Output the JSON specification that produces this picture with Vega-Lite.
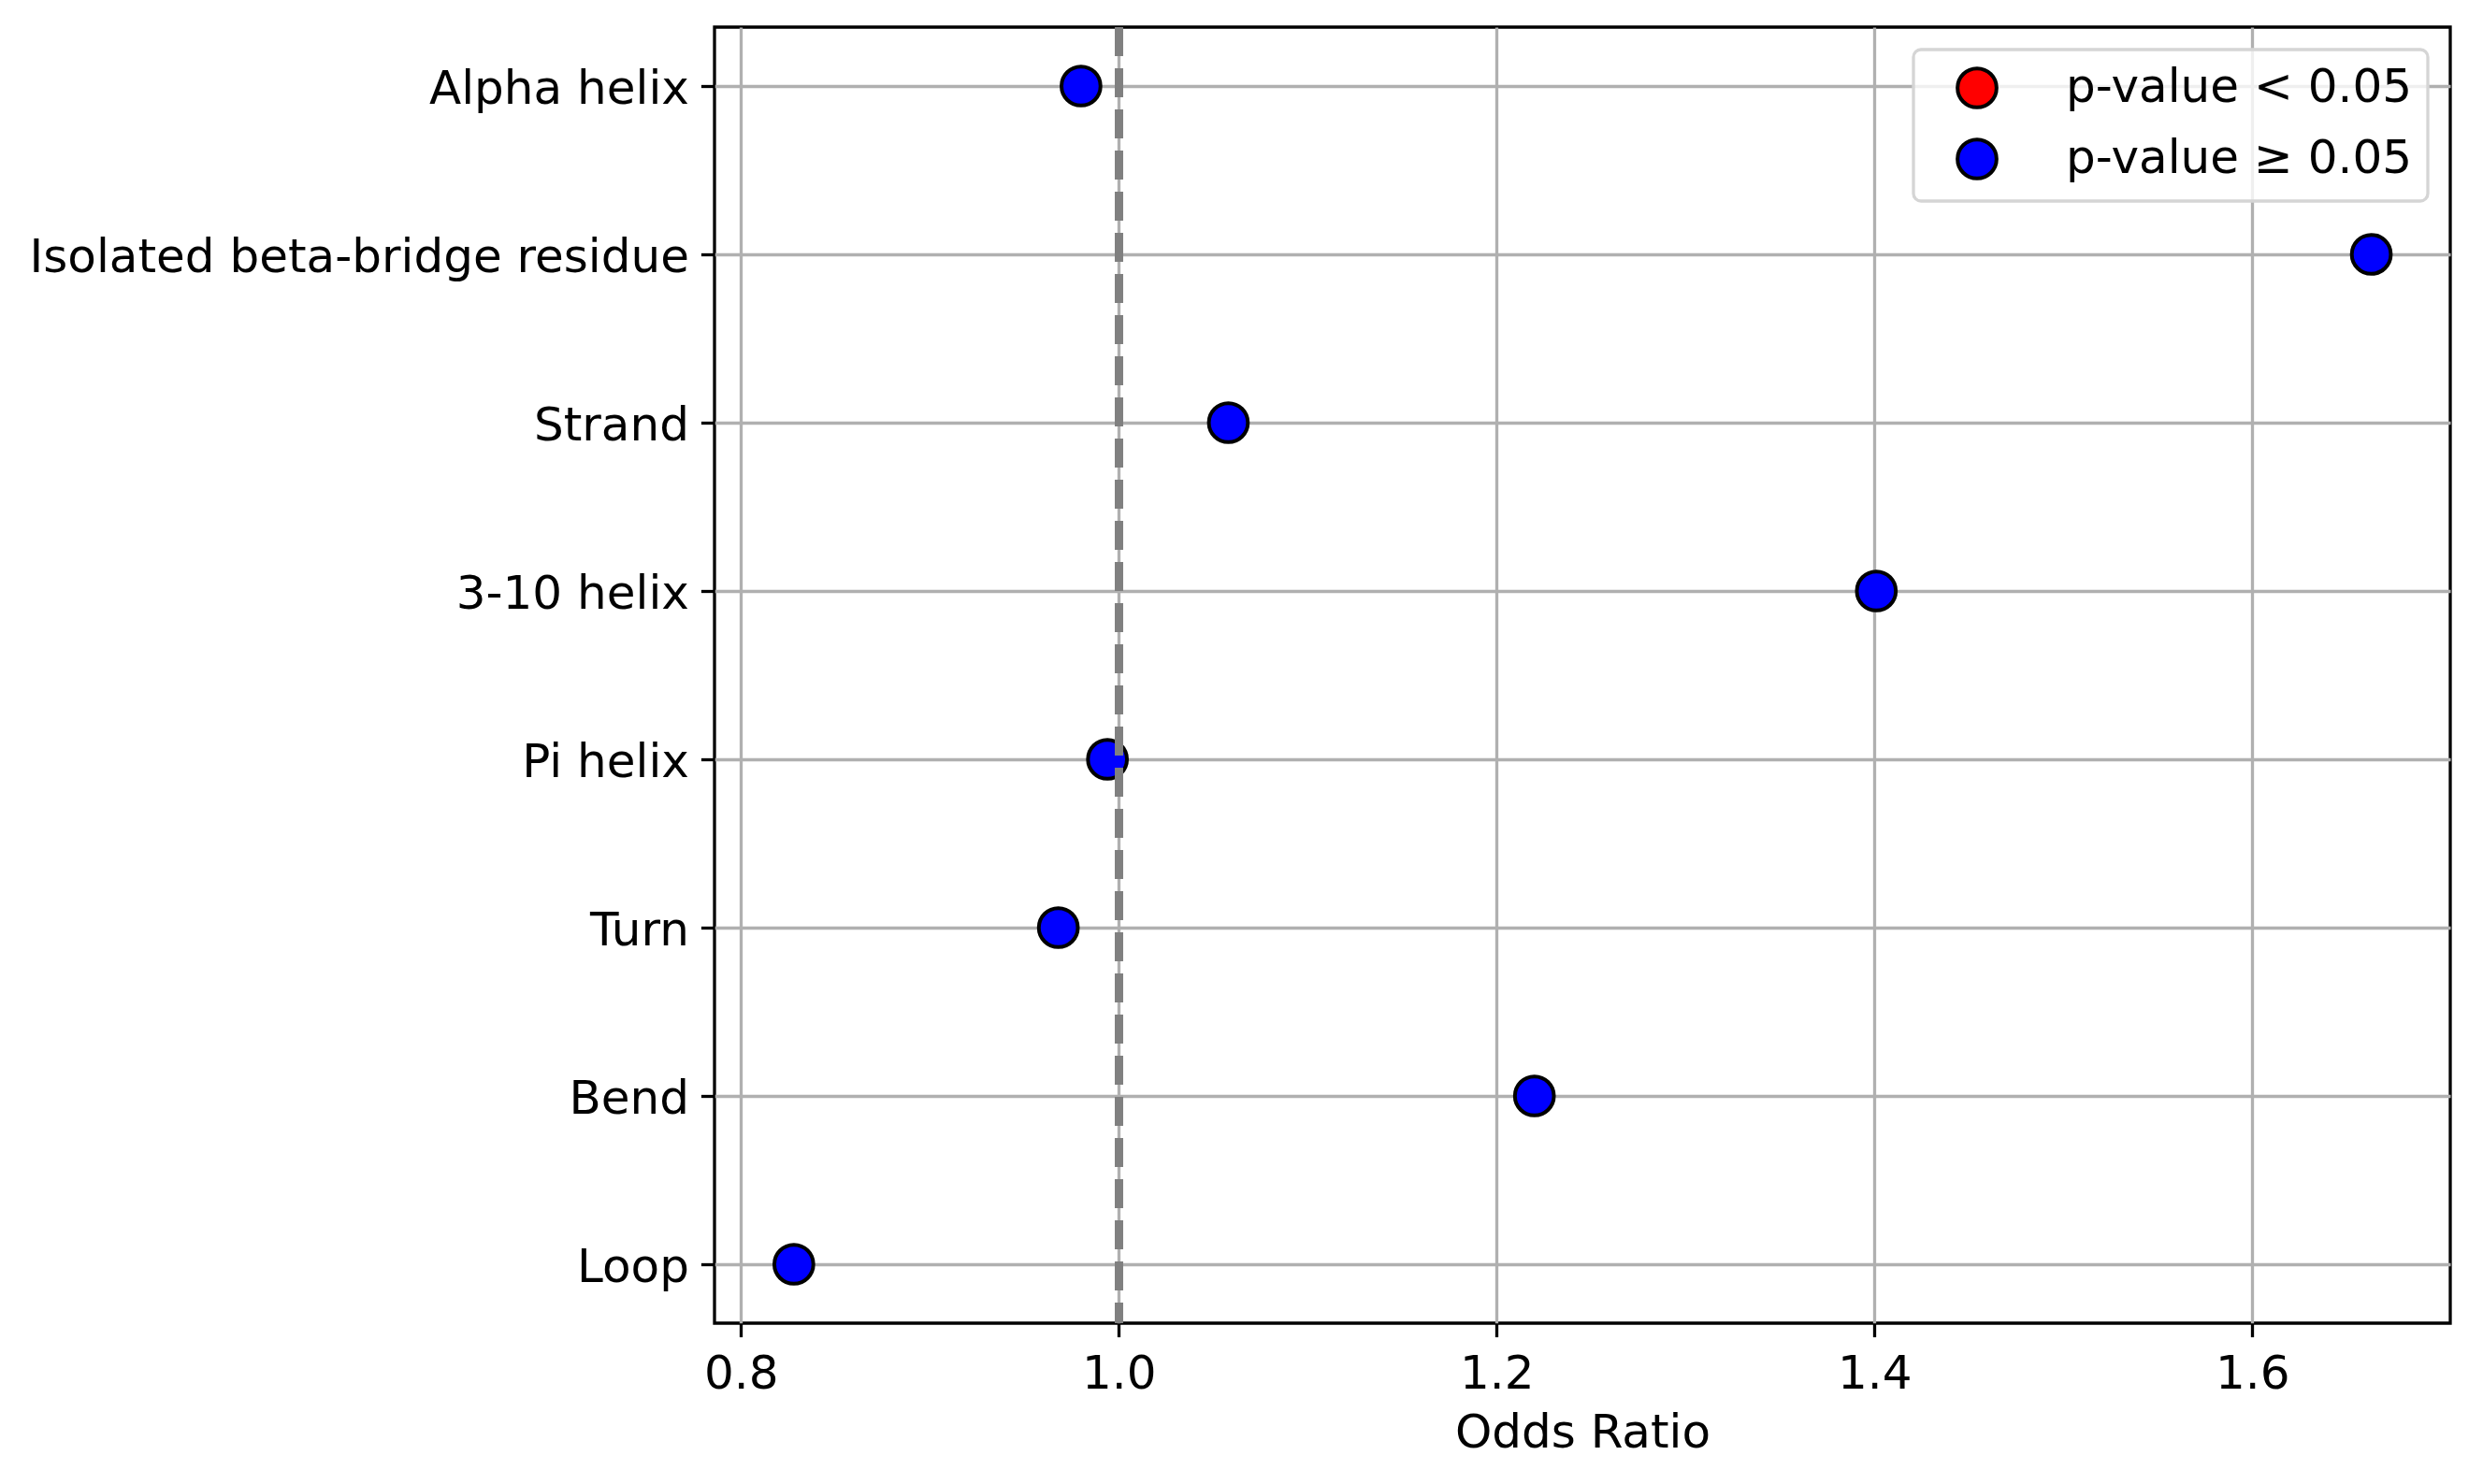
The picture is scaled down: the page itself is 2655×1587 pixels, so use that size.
{
  "$schema": "https://vega.github.io/schema/vega-lite/v6.json",
  "width": 1856,
  "height": 1386,
  "autosize": {"type": "none"},
  "padding": {"left": 764, "top": 29, "right": 35, "bottom": 172},
  "background": "white",
  "config": {
    "font": "DejaVu Sans",
    "view": {"stroke": "black", "strokeWidth": 3.3},
    "axis": {
      "labelFont": "DejaVu Sans",
      "labelFontSize": 50,
      "labelColor": "black",
      "labelLimit": 2000,
      "titleFont": "DejaVu Sans",
      "titleFontSize": 50,
      "titleFontWeight": "normal",
      "titleColor": "black",
      "tickColor": "black",
      "tickSize": 14.6,
      "tickWidth": 3.3,
      "domain": false,
      "grid": true,
      "gridColor": "#b0b0b0",
      "gridWidth": 3.3,
      "zindex": 1
    },
    "legend": {
      "labelFont": "DejaVu Sans",
      "labelFontSize": 50,
      "labelColor": "black",
      "labelLimit": 2000,
      "strokeWidth": 3.3
    }
  },
  "data": {
    "values": [
      {"structure": "Alpha helix", "odds_ratio": 0.980, "significance": "p-value ≥ 0.05"},
      {"structure": "Isolated beta-bridge residue", "odds_ratio": 1.663, "significance": "p-value ≥ 0.05"},
      {"structure": "Strand", "odds_ratio": 1.058, "significance": "p-value ≥ 0.05"},
      {"structure": "3-10 helix", "odds_ratio": 1.401, "significance": "p-value ≥ 0.05"},
      {"structure": "Pi helix", "odds_ratio": 0.994, "significance": "p-value ≥ 0.05"},
      {"structure": "Turn", "odds_ratio": 0.968, "significance": "p-value ≥ 0.05"},
      {"structure": "Bend", "odds_ratio": 1.220, "significance": "p-value ≥ 0.05"},
      {"structure": "Loop", "odds_ratio": 0.828, "significance": "p-value ≥ 0.05"}
    ]
  },
  "layer": [
    {
      "mark": {"type": "point", "shape": "circle", "filled": true, "opacity": 1, "size": 1739, "stroke": "black", "strokeWidth": 4},
      "encoding": {
        "x": {
          "field": "odds_ratio",
          "type": "quantitative",
          "title": "Odds Ratio",
          "scale": {"domain": [0.786, 1.7048], "nice": false, "zero": false},
          "axis": {"values": [0.8, 1.0, 1.2, 1.4, 1.6], "format": ".1f", "labelPadding": 15, "titlePadding": 13}
        },
        "y": {
          "field": "structure",
          "type": "nominal",
          "title": null,
          "sort": ["Alpha helix", "Isolated beta-bridge residue", "Strand", "3-10 helix", "Pi helix", "Turn", "Bend", "Loop"],
          "scale": {"type": "point", "padding": 0.35},
          "axis": {"labelPadding": 13, "labelOffset": 3}
        },
        "color": {
          "field": "significance",
          "type": "nominal",
          "scale": {"domain": ["p-value < 0.05", "p-value ≥ 0.05"], "range": ["#ff0000", "#0000ff"]},
          "legend": {
            "title": null,
            "orient": "top-right",
            "offset": 24,
            "padding": 16,
            "fillColor": "rgba(255,255,255,0.8)",
            "strokeColor": "#d5d5d5",
            "cornerRadius": 8,
            "symbolType": "circle",
            "symbolSize": 1739,
            "symbolStrokeColor": "black",
            "symbolStrokeWidth": 4,
            "symbolOpacity": 1,
            "symbolOffset": 27,
            "labelOffset": 70,
            "rowPadding": 18,
            "zindex": 2
          }
        }
      }
    },
    {
      "mark": {"type": "rule", "color": "#808080", "strokeWidth": 8.3, "strokeDash": [31, 13]},
      "encoding": {"x": {"datum": 1.0}}
    }
  ]
}
